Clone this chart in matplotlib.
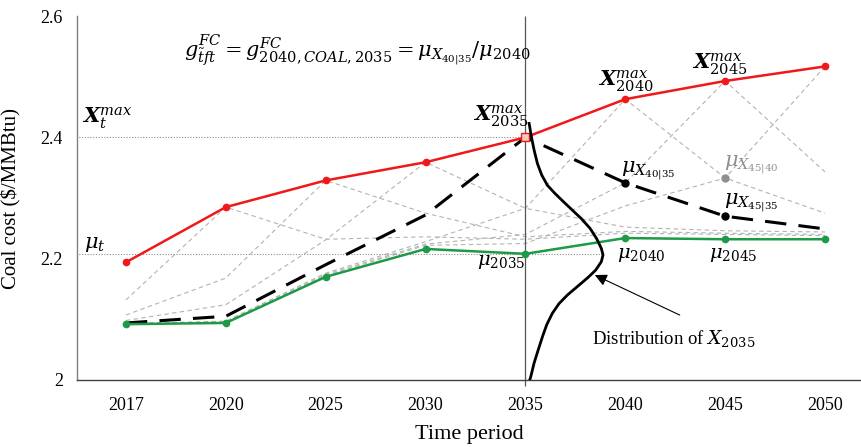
import matplotlib
matplotlib.use("Agg")
import matplotlib.pyplot as plt
import numpy as np

# Time periods on the horizontal axis
periods = ["2017", "2020", "2025", "2030", "2035", "2040", "2045", "2050"]

# Upper bound of coal cost per period (X_t^max)
cost_max = [2.194, 2.285, 2.329, 2.359, 2.400, 2.463, 2.493, 2.517]
# Expected coal cost per period (mu_t)
cost_mean = [2.092, 2.094, 2.170, 2.216, 2.208, 2.234, 2.232, 2.232]
# Path that reaches the maximum in 2035
path_peak_2035 = [2.094, 2.105, 2.190, 2.272, 2.400, 2.325, 2.270, 2.249]

# Other paths, each peaking in a different period
path_peak_2020 = [2.132, 2.285, 2.232, 2.236, 2.232, 2.242, 2.240, 2.238]
path_peak_2025 = [2.107, 2.168, 2.329, 2.275, 2.236, 2.245, 2.242, 2.240]
path_peak_2030 = [2.098, 2.124, 2.231, 2.359, 2.283, 2.252, 2.246, 2.244]
path_peak_2040 = [2.093, 2.097, 2.176, 2.228, 2.283, 2.463, 2.333, 2.275]
path_peak_2045 = [2.093, 2.096, 2.174, 2.224, 2.240, 2.325, 2.493, 2.343]
path_peak_2050 = [2.093, 2.095, 2.172, 2.222, 2.225, 2.287, 2.333, 2.517]

# Conditional mean mu_{X_45|40}
mu_45_40 = 2.333

# Sideways density of X_2035: cost level and horizontal extent (in period units)
dist_value = [2.423, 2.401, 2.379, 2.357, 2.338, 2.321, 2.308, 2.294, 2.280,
              2.266, 2.250, 2.233, 2.217, 2.206, 2.195, 2.181, 2.168, 2.154,
              2.140, 2.126, 2.110, 2.091, 2.071, 2.049, 2.028, 2.005, 2.000]
dist_width = [0.037, 0.060, 0.087, 0.120, 0.163, 0.220, 0.293, 0.380, 0.470,
              0.560, 0.647, 0.713, 0.760, 0.777, 0.760, 0.703, 0.620, 0.520,
              0.420, 0.337, 0.270, 0.213, 0.170, 0.127, 0.087, 0.053, 0.043]

plt.rcParams["mathtext.fontset"] = "dejavuserif"
serif = "Liberation Serif"

fig = plt.figure(figsize=(8.62, 4.47), dpi=100)
ax = fig.add_axes([0.0893, 0.150, 0.9107, 0.814])

x = np.arange(len(periods))
i35 = periods.index("2035")

RED = "#f01818"
GREEN = "#1c9a47"
GRAY = "#b3b3b3"

# Lattice of alternative paths
for path in [path_peak_2020, path_peak_2025, path_peak_2030,
             path_peak_2040, path_peak_2045, path_peak_2050]:
    ax.plot(x, path, color=GRAY, lw=0.8, ls=(0, (4, 3)), zorder=1)

# Reference levels at 2035
ax.plot([-0.5, x[i35]], [cost_max[i35]] * 2, color="#8c8c8c", lw=0.8, ls=(0, (1, 1.5)), zorder=1)
ax.plot([-0.5, x[i35] + max(dist_width)], [cost_mean[i35]] * 2, color="#8c8c8c", lw=0.8,
        ls=(0, (1, 1.5)), zorder=1)

# Vertical marker at 2035
ax.vlines(x[i35], 1.99, 2.6, color="#555555", lw=0.9, clip_on=False, zorder=2)

# Max, mean and the 2035-peak path
ax.plot(x, cost_max, color=RED, lw=1.8, marker="o", ms=4.5, zorder=4)
ax.plot([x[i35]], [cost_max[i35]], marker="s", ms=6, mfc="#f7c9b8", mec=RED, mew=1.0, zorder=5)
ax.plot(x, cost_mean, color=GREEN, lw=1.8, marker="o", ms=4.5, zorder=4)
ax.plot(x, path_peak_2035, color="black", lw=2.2, ls=(0, (7, 4)), zorder=3)
ax.plot(x[5:7], path_peak_2035[5:7], ls="none", marker="o", color="black", ms=5, zorder=5)
ax.plot([x[6]], [mu_45_40], ls="none", marker="o", color="#8f8f8f", ms=5, zorder=5)

# Distribution of X_2035
ax.plot(x[i35] + np.array(dist_width), dist_value, color="black", lw=2.0, zorder=6,
        solid_joinstyle="round")
ax.annotate("", xy=(4.695, 2.173), xytext=(5.545, 2.107),
            arrowprops=dict(arrowstyle="-|>", color="black", lw=0.8, mutation_scale=18,
                            shrinkA=0, shrinkB=0), zorder=6)
ax.text(4.67, 2.068, r"Distribution of $X_{2035}$", fontsize=13.5, family=serif,
        ha="left", va="center")

# Annotations
ax.text(2.32, 2.544, r"$g^{FC}_{\tilde{t}ft} = g^{FC}_{2040,COAL,2035} = \mu_{X_{40|35}}/\mu_{2040}$",
        fontsize=15, ha="center", va="center")
ax.text(-0.44, 2.432, r"$\mathbfit{X}_t^{max}$", fontsize=15, ha="left", va="center")
ax.text(-0.42, 2.224, r"$\mu_t$", fontsize=15, ha="left", va="center")
ax.text(4.03, 2.435, r"$\mathbfit{X}_{2035}^{max}$", fontsize=15, ha="right", va="center")
ax.text(5.01, 2.492, r"$\mathbfit{X}_{2040}^{max}$", fontsize=15, ha="center", va="center")
ax.text(5.95, 2.520, r"$\mathbfit{X}_{2045}^{max}$", fontsize=15, ha="center", va="center")
ax.text(4.96, 2.345, r"$\mu_{X_{40|35}}$", fontsize=15, ha="left", va="center")
ax.text(5.99, 2.355, r"$\mu_{X_{45|40}}$", fontsize=15, ha="left", va="center", color="#8f8f8f")
ax.text(5.99, 2.293, r"$\mu_{X_{45|35}}$", fontsize=15, ha="left", va="center")
ax.text(4.0, 2.195, r"$\mu_{2035}$", fontsize=14, ha="right", va="center")
ax.text(4.92, 2.207, r"$\mu_{2040}$", fontsize=14, ha="left", va="center")
ax.text(5.84, 2.207, r"$\mu_{2045}$", fontsize=14, ha="left", va="center")

# Axes styling
ax.set_xlim(-0.49, 7.37)
ax.set_ylim(2.0, 2.6)
ax.set_xticks(x)
ax.set_xticklabels(periods, family=serif, fontsize=13)
ax.set_yticks([2.0, 2.2, 2.4, 2.6])
ax.set_yticklabels(["2", "2.2", "2.4", "2.6"], family=serif, fontsize=13)
ax.tick_params(axis="both", length=0, pad=12)
ax.tick_params(axis="y", pad=10)
for side in ["top", "right"]:
    ax.spines[side].set_visible(False)
ax.spines["left"].set_color("#7f7f7f")
ax.spines["bottom"].set_color("#404040")
ax.spines["left"].set_linewidth(1.0)
ax.spines["bottom"].set_linewidth(1.0)
ax.set_xlabel("Time period", family=serif, fontsize=16, labelpad=8)
ax.set_ylabel("Coal cost ($/MMBtu)", family=serif, fontsize=15, labelpad=14)

fig.savefig("out.png", dpi=100)
